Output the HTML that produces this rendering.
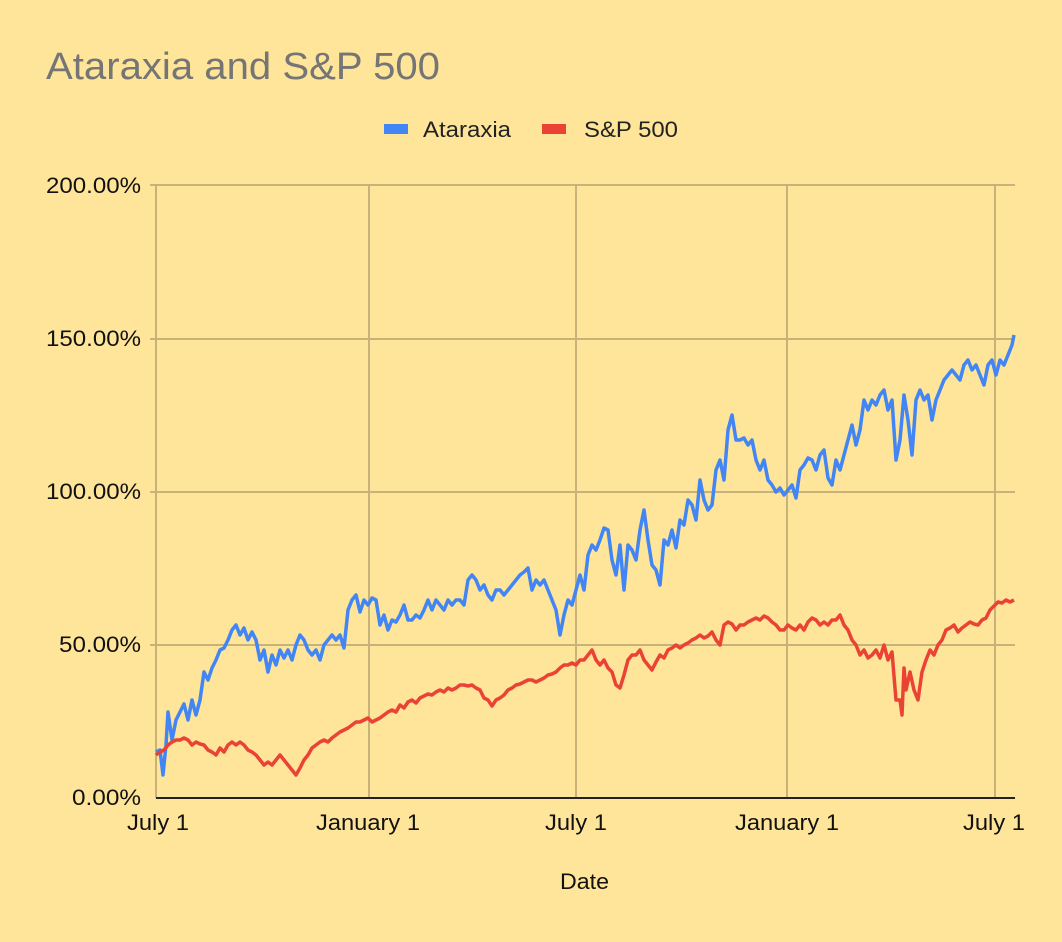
<!DOCTYPE html>
<html><head><style>
html,body{margin:0;padding:0;background:#ffe599;}
svg{display:block;}
text{font-family:"Liberation Sans",Arial,sans-serif;}
</style></head><body>
<svg width="1062" height="942" viewBox="0 0 1062 942">
<rect width="1062" height="942" fill="#ffe599"/>
<text x="46" y="79" font-size="38" fill="#757575" textLength="394" lengthAdjust="spacingAndGlyphs">Ataraxia and S&amp;P 500</text>
<rect x="384" y="124" width="24" height="10" fill="#4285f4"/>
<text x="423" y="137" font-size="22" fill="#222" textLength="88" lengthAdjust="spacingAndGlyphs">Ataraxia</text>
<rect x="542" y="124" width="24" height="10" fill="#ea4335"/>
<text x="584" y="137" font-size="22" fill="#222" textLength="94" lengthAdjust="spacingAndGlyphs">S&amp;P 500</text>
<g stroke="#c8b27a" stroke-width="2">
<line x1="150" y1="185" x2="1015" y2="185"/>
<line x1="150" y1="339" x2="1015" y2="339"/>
<line x1="150" y1="492" x2="1015" y2="492"/>
<line x1="150" y1="645" x2="1015" y2="645"/>
<line x1="156" y1="185" x2="156" y2="798"/>
<line x1="369" y1="185" x2="369" y2="798"/>
<line x1="576" y1="185" x2="576" y2="798"/>
<line x1="787" y1="185" x2="787" y2="798"/>
<line x1="995" y1="185" x2="995" y2="798"/>
</g>
<g font-size="22" fill="#111">
<text x="46" y="193" textLength="95" lengthAdjust="spacingAndGlyphs">200.00%</text>
<text x="46" y="346" textLength="95" lengthAdjust="spacingAndGlyphs">150.00%</text>
<text x="46" y="499" textLength="95" lengthAdjust="spacingAndGlyphs">100.00%</text>
<text x="59" y="652" textLength="82" lengthAdjust="spacingAndGlyphs">50.00%</text>
<text x="72" y="805" textLength="69" lengthAdjust="spacingAndGlyphs">0.00%</text>
<text x="127" y="830" textLength="62" lengthAdjust="spacingAndGlyphs">July 1</text>
<text x="316" y="830" textLength="104" lengthAdjust="spacingAndGlyphs">January 1</text>
<text x="545" y="830" textLength="62" lengthAdjust="spacingAndGlyphs">July 1</text>
<text x="735" y="830" textLength="104" lengthAdjust="spacingAndGlyphs">January 1</text>
<text x="963" y="830" textLength="62" lengthAdjust="spacingAndGlyphs">July 1</text>
<text x="560" y="889" textLength="49" lengthAdjust="spacingAndGlyphs">Date</text>
</g>
<polyline fill="none" stroke="#4285f4" stroke-width="3.5" stroke-linejoin="round" points="156,752 160,750 163,775 166,745 168,712 172,740 176,720 180,712 184,704 188,720 192,700 196,715 200,700 204,672 208,680 212,668 216,660 220,650 224,648 228,640 232,630 236,625 240,635 244,628 248,640 252,632 256,640 260,660 264,650 268,672 272,655 276,665 280,650 284,658 288,650 292,660 296,645 300,635 304,640 308,650 312,655 316,650 320,660 324,645 328,640 332,635 336,640 340,635 344,648 348,610 352,600 356,595 360,612 364,600 368,605 372,598 376,600 380,625 384,615 388,630 392,620 396,622 400,615 404,605 408,620 412,620 416,615 420,618 424,610 428,600 432,610 436,600 440,605 444,610 448,600 452,605 456,600 460,600 464,605 468,580 472,575 476,580 480,590 484,585 488,595 492,600 496,590 500,590 504,595 508,590 512,585 516,580 520,575 524,572 528,568 532,590 536,580 540,585 544,580 548,590 552,600 556,610 560,635 564,615 568,600 572,605 576,590 580,575 584,590 588,555 592,545 596,550 600,540 604,528 608,530 612,560 616,575 620,545 624,590 628,545 632,550 636,560 640,530 644,510 648,540 652,565 656,570 660,585 664,540 668,545 672,530 676,548 680,520 684,525 688,500 692,505 696,520 700,480 704,500 708,510 712,505 716,470 720,460 724,480 728,430 732,415 736,440 740,440 744,438 748,445 752,440 756,460 760,470 764,460 768,480 772,485 776,492 780,488 784,495 788,490 792,485 796,498 800,470 804,465 808,458 812,460 816,470 820,455 824,450 828,478 832,485 836,460 840,470 844,455 848,440 852,425 856,445 860,430 864,400 868,410 872,400 876,405 880,395 884,390 888,410 892,400 896,460 900,440 904,395 908,420 912,455 916,400 920,390 924,400 928,395 932,420 936,400 940,390 944,380 948,375 952,370 956,375 960,380 964,365 968,360 972,370 976,365 980,375 984,385 988,365 992,360 996,375 1000,360 1004,365 1008,355 1012,345 1014,335"/>
<polyline fill="none" stroke="#ea4335" stroke-width="3.5" stroke-linejoin="round" points="156,755 160,752 164,750 168,745 172,742 176,740 180,740 184,738 188,740 192,745 196,742 200,744 204,745 208,750 212,752 216,755 220,748 224,752 228,745 232,742 236,745 240,742 244,745 248,750 252,752 256,755 260,760 264,765 268,762 272,765 276,760 280,755 284,760 288,765 292,770 296,775 300,768 304,760 308,755 312,748 316,745 320,742 324,740 328,742 332,738 336,735 340,732 344,730 348,728 352,725 356,722 360,722 364,720 368,718 372,722 376,720 380,718 384,715 388,712 392,710 396,712 400,705 404,708 408,702 412,700 416,703 420,698 424,696 428,694 432,695 436,692 440,690 444,692 448,688 452,690 456,688 460,685 464,685 468,686 472,685 476,688 480,690 484,698 488,700 492,706 496,700 500,698 504,695 508,690 512,688 516,685 520,684 524,682 528,680 532,680 536,682 540,680 544,678 548,675 552,674 556,672 560,668 564,665 568,665 572,663 576,665 580,660 584,660 588,655 592,650 596,660 600,665 604,660 608,668 612,672 616,685 620,688 624,675 628,660 632,655 636,655 640,650 644,660 648,665 652,670 656,662 660,655 664,658 668,650 672,648 676,645 680,648 684,645 688,643 692,640 696,638 700,635 704,638 708,636 712,632 716,640 720,645 724,625 728,622 732,624 736,630 740,625 744,625 748,622 752,620 756,618 760,620 764,616 768,618 772,622 776,625 780,630 784,630 788,625 792,628 796,630 800,625 804,630 808,622 812,618 816,620 820,625 824,622 828,625 832,620 836,620 840,615 844,625 848,630 852,640 856,645 860,655 864,650 868,658 872,655 876,650 880,658 884,645 888,660 892,652 896,700 900,700 902,715 904,668 906,690 910,672 914,690 918,700 922,672 926,660 930,650 934,655 938,645 942,640 946,630 950,628 954,625 958,632 962,628 966,625 970,622 974,624 978,625 982,620 986,618 990,610 994,606 998,602 1002,603 1006,600 1010,602 1014,600"/>
<line x1="156" y1="798" x2="1015" y2="798" stroke="#222" stroke-width="2"/>
</svg>
</body></html>
